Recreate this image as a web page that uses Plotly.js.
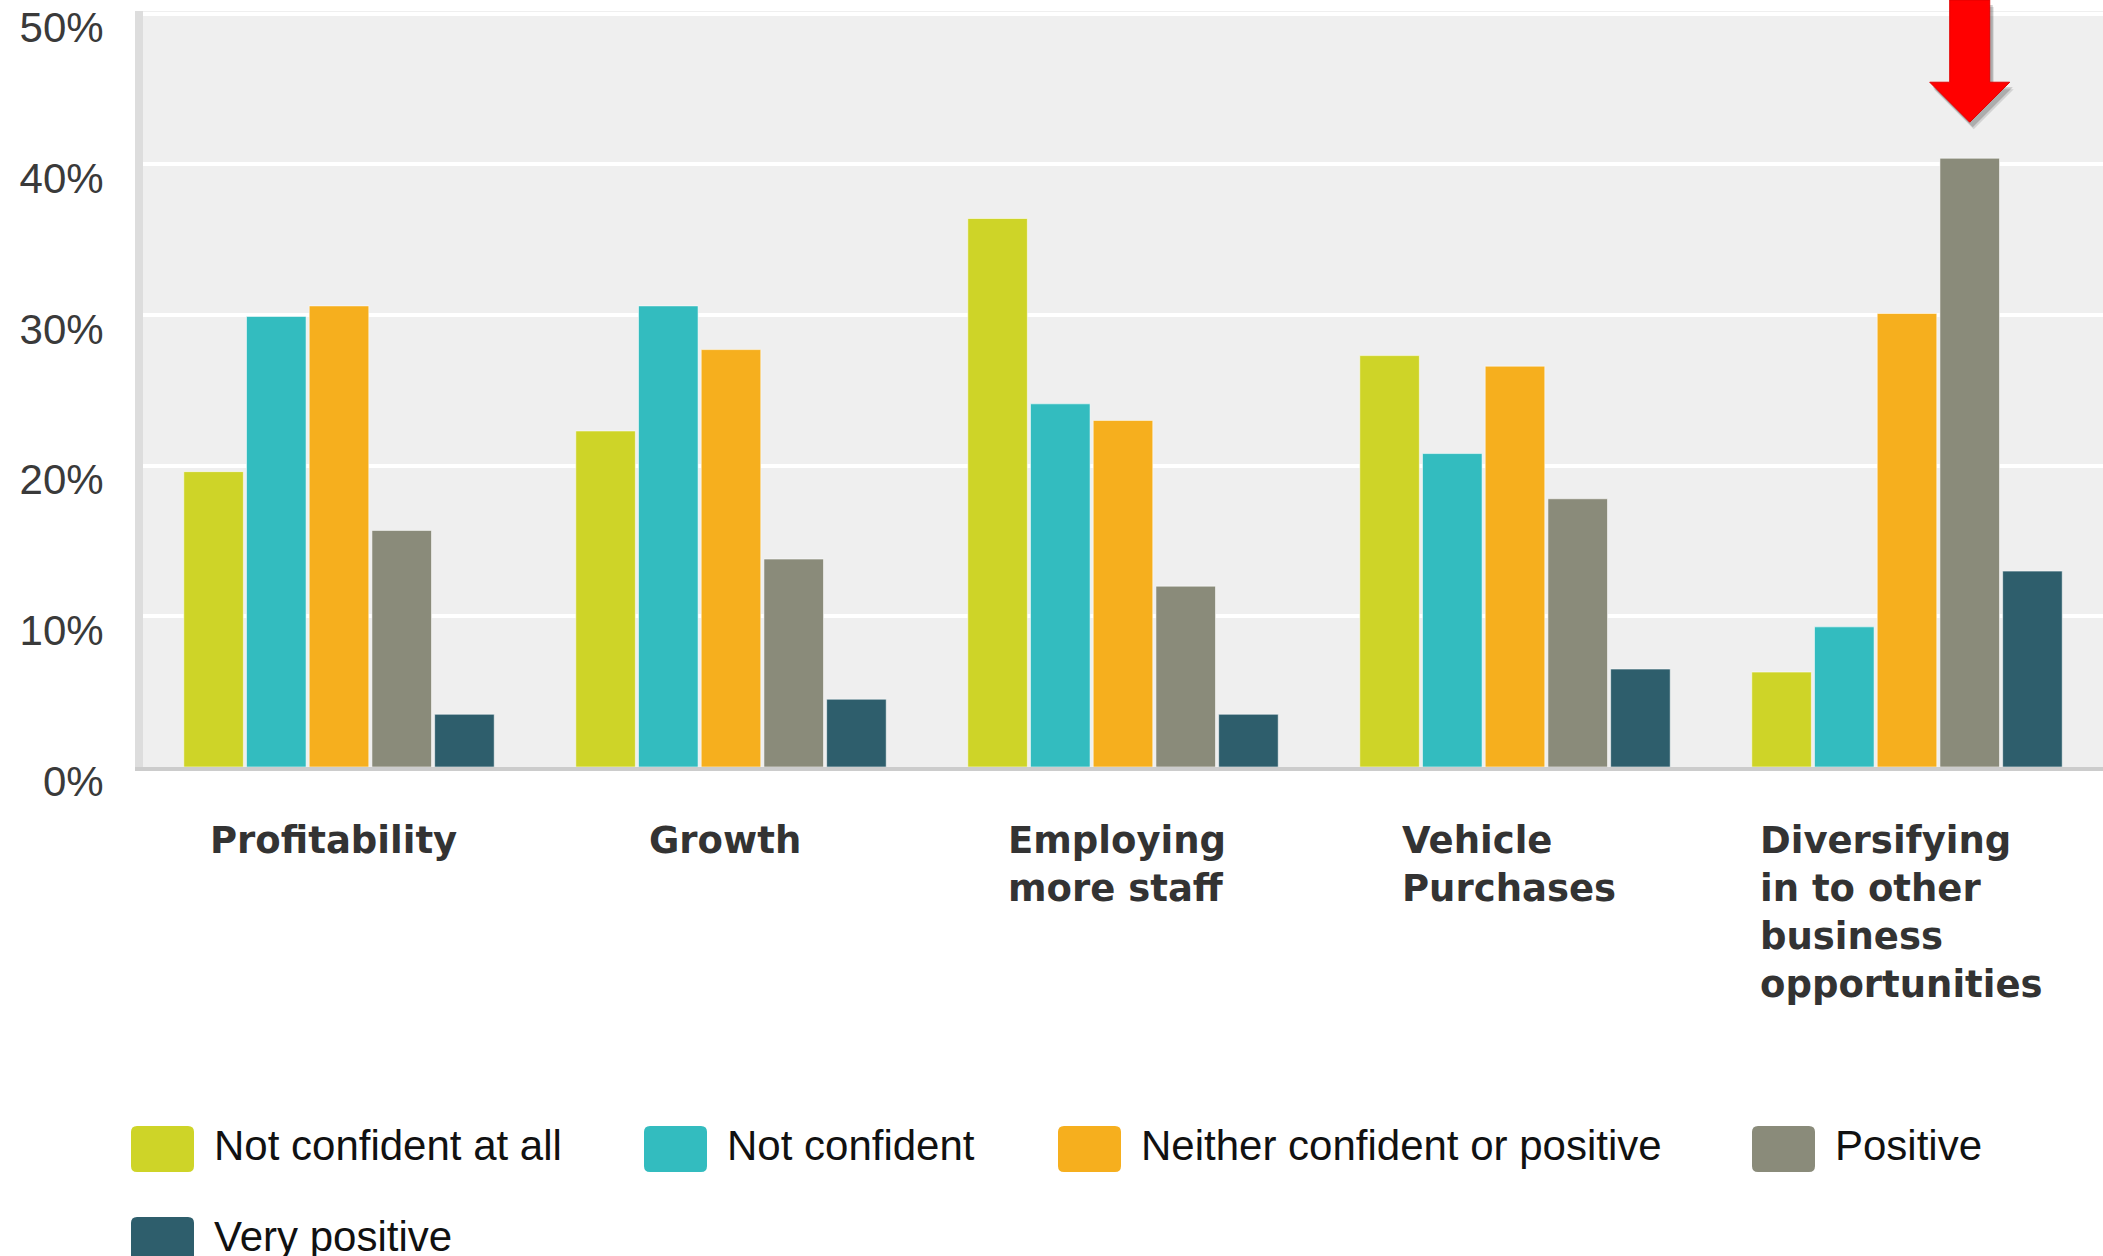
<!DOCTYPE html>
<html><head><meta charset="utf-8">
<script src="https://cdn.plot.ly/plotly-3.0.1.min.js"></script>
<style>html,body{margin:0;padding:0;background:#fff;}#chart{width:2103px;height:1256px;}</style>
</head><body><div id="chart"></div>
<script>
// ---- data ----
const categories = ['Profitability','Growth','Employing more staff','Vehicle Purchases','Diversifying in to other business opportunities'];
const categoryLabels = ['Profitability','Growth','Employing<br>more staff','Vehicle<br>Purchases','Diversifying<br>in to other<br>business<br>opportunities'];
const seriesNames = ['Not confident at all','Not confident','Neither confident or positive','Positive','Very positive'];
const notConfidentAtAll = [19.6, 22.3, 36.4, 27.3, 6.3];
const notConfident     = [29.9, 30.6, 24.1, 20.8, 9.3];
const neither          = [30.6, 27.7, 23.0, 26.6, 30.1];
const positive         = [15.7, 13.8, 12.0, 17.8, 40.4];
const veryPositive     = [3.5, 4.5, 3.5, 6.5, 13.0];
const yTickVals = [0, 10, 20, 30, 40, 50];
const yTickText = ['0%', '10%', '20%', '30%', '40%', '50%'];
const seriesValues = [notConfidentAtAll, notConfident, neither, positive, veryPositive];
const seriesColors = ['#CED428', '#33BCBF', '#F6AF1E', '#8A8B7A', '#2E5E6C'];

// ---- layout geometry (px) ----
const W = 2103, H = 1256;
const ML = 143, MR = 0, MT = 11, MB = 1256 - 767;
const PW = W - ML - MR, PH = H - MT - MB;
const YMAX = 50.17;
const BARGAP = 0.2;
const px2paperX = px => (px - ML) / PW;
const px2paperY = py => (H - MB - py) / PH;

const traces = seriesNames.map((n, i) => ({
  type: 'bar', name: n, x: categories, y: seriesValues[i],
  marker: {color: seriesColors[i], line: {color: 'rgba(255,255,255,0.55)', width: 1}},
  hoverinfo: 'x+y+name', showlegend: false
}));

const annotations = [];
const shapes = [];

// category labels (left aligned lines, block centred on the category)
categories.forEach((c, i) => {
  annotations.push({
    x: c, y: 0, xref: 'x', yref: 'y', text: '<b>' + categoryLabels[i] + '</b>',
    showarrow: false, xanchor: 'center', yanchor: 'top', align: 'left',
    xshift: -6, yshift: -50,
    font: {family: 'DejaVu Sans', size: 37, color: '#333333'}
  });
});

// hide top gridline at 50%
shapes.push({type: 'rect', xref: 'paper', yref: 'y', x0: 0, x1: 1, y0: 49.8, y1: 51,
  fillcolor: '#efefef', line: {width: 0}, layer: 'between'});

// custom legend
const legendItemX = [131, 644, 1058, 1752, 131];
const legendRowY = [1149, 1240];
const legendRow = [0, 0, 0, 0, 1];
const SW = 63, SH = 46, R = 6;
function roundRect(x0, y0, x1, y1, r) {
  const X = px2paperX, Y = px2paperY;
  return `M${X(x0 + r)},${Y(y0)} L${X(x1 - r)},${Y(y0)} Q${X(x1)},${Y(y0)} ${X(x1)},${Y(y0 + r)} ` +
         `L${X(x1)},${Y(y1 - r)} Q${X(x1)},${Y(y1)} ${X(x1 - r)},${Y(y1)} ` +
         `L${X(x0 + r)},${Y(y1)} Q${X(x0)},${Y(y1)} ${X(x0)},${Y(y1 - r)} ` +
         `L${X(x0)},${Y(y0 + r)} Q${X(x0)},${Y(y0)} ${X(x0 + r)},${Y(y0)} Z`;
}
seriesNames.forEach((n, i) => {
  const x = legendItemX[i], yc = legendRowY[legendRow[i]];
  shapes.push({type: 'path', xref: 'paper', yref: 'paper',
    path: roundRect(x, yc - SH / 2, x + SW, yc + SH / 2, R),
    fillcolor: seriesColors[i], line: {width: 0}});
  annotations.push({x: px2paperX(x + 81), y: px2paperY(yc - 4), xref: 'paper', yref: 'paper',
    text: n, showarrow: false, xanchor: 'left', yanchor: 'middle',
    font: {family: 'Liberation Sans', size: 42, color: '#111111'}});
});

// red arrow pointing at the highest bar of the last category
(function () {
  const catIdx = categories.length - 1, sIdx = 3;
  const catPx = PW / categories.length;
  const slot = catPx * (1 - BARGAP) / seriesNames.length;
  const cx = ML + (catIdx + 0.5) * catPx + (sIdx - (seriesNames.length - 1) / 2) * slot;
  const barTopPx = (H - MB) - seriesValues[sIdx][catIdx] * (PH / YMAX);
  const tip = barTopPx - 36, headBase = tip - 40, top = 0;
  const pts = (dx, dy) => {
    const X = p => px2paperX(p + dx), Y = p => px2paperY(p + dy);
    return `M${X(cx - 20)},${Y(top)} L${X(cx + 20)},${Y(top)} L${X(cx + 20)},${Y(headBase)} ` +
           `L${X(cx + 40)},${Y(headBase)} L${X(cx)},${Y(tip)} L${X(cx - 40)},${Y(headBase)} ` +
           `L${X(cx - 20)},${Y(headBase)} Z`;
  };
  shapes.push({type: 'path', xref: 'paper', yref: 'paper', path: pts(4, 7), fillcolor: 'rgba(0,0,0,0.12)', line: {width: 0}});
  shapes.push({type: 'path', xref: 'paper', yref: 'paper', path: pts(3, 5), fillcolor: 'rgba(0,0,0,0.18)', line: {width: 0}});
  shapes.push({type: 'path', xref: 'paper', yref: 'paper', path: pts(0, 0), fillcolor: '#FF0000', line: {color: '#E00000', width: 1}});
})();

const layout = {
  width: W, height: H,
  margin: {l: ML, r: MR, t: MT, b: MB, pad: 0},
  paper_bgcolor: '#ffffff', plot_bgcolor: '#efefef',
  barmode: 'group', bargap: BARGAP, bargroupgap: 0.05,
  showlegend: false,
  xaxis: {type: 'category', range: [-0.5, 4.5], showticklabels: false, showgrid: false,
    zeroline: false, showline: true, linecolor: '#cccccc', linewidth: 4, ticks: '', fixedrange: true},
  yaxis: {range: [0, YMAX], tickvals: yTickVals, ticktext: yTickText, showgrid: true,
    gridcolor: '#ffffff', gridwidth: 4, zeroline: false, showline: true, linecolor: '#dddddd',
    linewidth: 8, ticks: '', ticklabelstandoff: 23, ticklabelshift: 14,
    tickfont: {family: 'Liberation Sans', size: 42, color: '#3a3a3a'}, fixedrange: true},
  annotations: annotations,
  shapes: shapes
};

Plotly.newPlot('chart', traces, layout, {displayModeBar: false, staticPlot: true});
</script>
</body></html>
